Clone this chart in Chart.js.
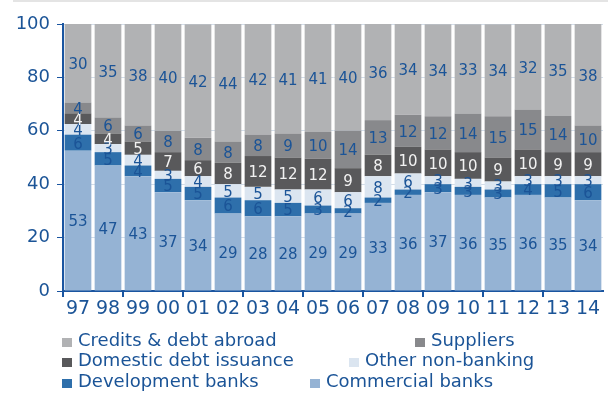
<!DOCTYPE html>
<html>
<head>
<meta charset="utf-8">
<script src="https://cdn.jsdelivr.net/npm/chart.js@4.4.1/dist/chart.umd.min.js"></script>
<style>
  body { margin: 0; background: #fff; }
  #wrap { position: relative; width: 608px; height: 403px; }
  #topline { position: absolute; left: 13px; right: 0; top: 0; height: 2px; background: #e4e4e4; }
  .item { position: absolute; font: 18px "DejaVu Sans", sans-serif; color: #1b5497; line-height: 20px; white-space: nowrap; }
  .sq { position: absolute; width: 10px; height: 9px; }
</style>
</head>
<body>
<div id="wrap">
  <canvas id="chart" width="608" height="403"></canvas>
  <div id="topline"></div>
  <div id="legend"></div>
</div>
<script>
const years = ['97', '98', '99', '00', '01', '02', '03', '04', '05', '06', '07', '08', '09', '10', '11', '12', '13', '14'];

const commercialBanks = [52.55, 47, 43, 37, 34, 29, 28, 28, 29, 29, 33, 36, 37, 36, 35, 36, 35, 34];
const developmentBanks = [6, 5, 4, 5, 5, 6, 6, 5, 3, 2, 2, 2, 3, 3, 3, 4, 5, 6];
const otherNonBanking = [4, 3, 4, 3, 4, 5, 5, 5, 6, 6, 8, 6, 3, 3, 3, 3, 3, 3];
const domesticDebt = [4, 4, 5, 7, 6, 8, 11.55, 12, 11.55, 9, 8, 10, 10, 10, 9, 10, 9, 9];
const suppliers = [4, 6, 6, 8, 8.45, 8, 8, 9, 10, 14, 13, 12, 12.45, 14.45, 15.45, 15, 13.55, 10];
const creditsAbroad = [29.55, 35, 38, 40, 42.45, 44, 41.55, 41, 40.55, 40, 36, 34, 34.45, 33.45, 34.45, 32, 34.55, 38];

const yTicks = [0, 20, 40, 60, 80, 100];

const blue = '#1b5497';
const axisBlue = '#1a55a0';
const font = '"DejaVu Sans", sans-serif';

const series = [
    { label: 'Commercial banks', data: commercialBanks, color: '#95b3d4', text: blue },
    { label: 'Development banks', data: developmentBanks, color: '#2e6fab', text: blue },
    { label: 'Other non-banking', data: otherNonBanking, color: '#dbe5f0', text: blue },
    { label: 'Domestic debt issuance', data: domesticDebt, color: '#59595b', text: '#f2f2f2' },
    { label: 'Suppliers', data: suppliers, color: '#88898c', text: blue },
    { label: 'Credits & debt abroad', data: creditsAbroad, color: '#b1b2b4', text: blue }
];

// draw the numbers in the middle of each segment
const segmentLabels = {
    id: 'segmentLabels',
    afterDatasetsDraw(chart) {
        const ctx = chart.ctx;
        const area = chart.chartArea;
        ctx.save();
        ctx.font = '15px ' + font;
        ctx.textAlign = 'center';
        ctx.textBaseline = 'middle';
        chart.data.datasets.forEach((ds, i) => {
            const meta = chart.getDatasetMeta(i);
            meta.data.forEach((bar, j) => {
                const top = Math.max(bar.y, area.top);
                const y = (top + bar.base) / 2;
                ctx.fillStyle = series[i].text;
                ctx.fillText(Math.round(ds.data[j]), bar.x, y + 2);
            });
        });
        ctx.restore();
    }
};

new Chart(document.getElementById('chart'), {
    type: 'bar',
    data: {
        labels: years,
        datasets: series.map(s => ({
            label: s.label,
            data: s.data,
            backgroundColor: s.color,
            borderWidth: 0,
            barPercentage: 0.89,
            categoryPercentage: 1
        }))
    },
    options: {
        responsive: false,
        animation: false,
        layout: { padding: { top: 24, right: 5, left: 0, bottom: 0 } },
        plugins: {
            legend: { display: false },
            tooltip: { enabled: false }
        },
        scales: {
            x: {
                stacked: true,
                afterFit: (scale) => { scale.height = 112; },
                border: { color: axisBlue, width: 2 },
                grid: {
                    offset: true,
                    drawOnChartArea: false,
                    tickLength: 6,
                    lineWidth: 2,
                    color: (c) => (c.index % 2 === 0 ? axisBlue : 'rgba(0,0,0,0)')
                },
                ticks: {
                    color: blue,
                    font: { family: font, size: 19 },
                    padding: 1,
                    maxRotation: 0,
                    autoSkip: false
                }
            },
            y: {
                stacked: true,
                min: 0,
                max: 100,
                afterFit: (scale) => { scale.width = 63; },
                afterBuildTicks: (scale) => { scale.ticks = yTicks.map(v => ({ value: v })); },
                border: { color: axisBlue, width: 2 },
                grid: {
                    color: '#d3dde9',
                    lineWidth: 1,
                    tickColor: axisBlue,
                    tickLength: 6
                },
                ticks: {
                    color: blue,
                    font: { family: font, size: 18 },
                    padding: 7
                }
            }
        }
    },
    plugins: [segmentLabels]
});

// legend laid out as in the original, in three rows
const legendItems = [
    { name: 'Credits & debt abroad', color: '#b1b2b4', x: 62, y: 340 },
    { name: 'Suppliers', color: '#88898c', x: 415, y: 340 },
    { name: 'Domestic debt issuance', color: '#59595b', x: 62, y: 360 },
    { name: 'Other non-banking', color: '#dbe5f0', x: 349, y: 360 },
    { name: 'Development banks', color: '#2e6fab', x: 62, y: 381 },
    { name: 'Commercial banks', color: '#95b3d4', x: 310, y: 381 }
];

const legend = document.getElementById('legend');
legendItems.forEach(item => {
    const sq = document.createElement('div');
    sq.className = 'sq';
    sq.style.left = item.x + 'px';
    sq.style.top = (item.y - 2) + 'px';
    sq.style.background = item.color;
    legend.appendChild(sq);

    const txt = document.createElement('div');
    txt.className = 'item';
    txt.style.left = (item.x + 16) + 'px';
    txt.style.top = (item.y - 10) + 'px';
    txt.textContent = item.name;
    legend.appendChild(txt);
});
</script>
</body>
</html>
